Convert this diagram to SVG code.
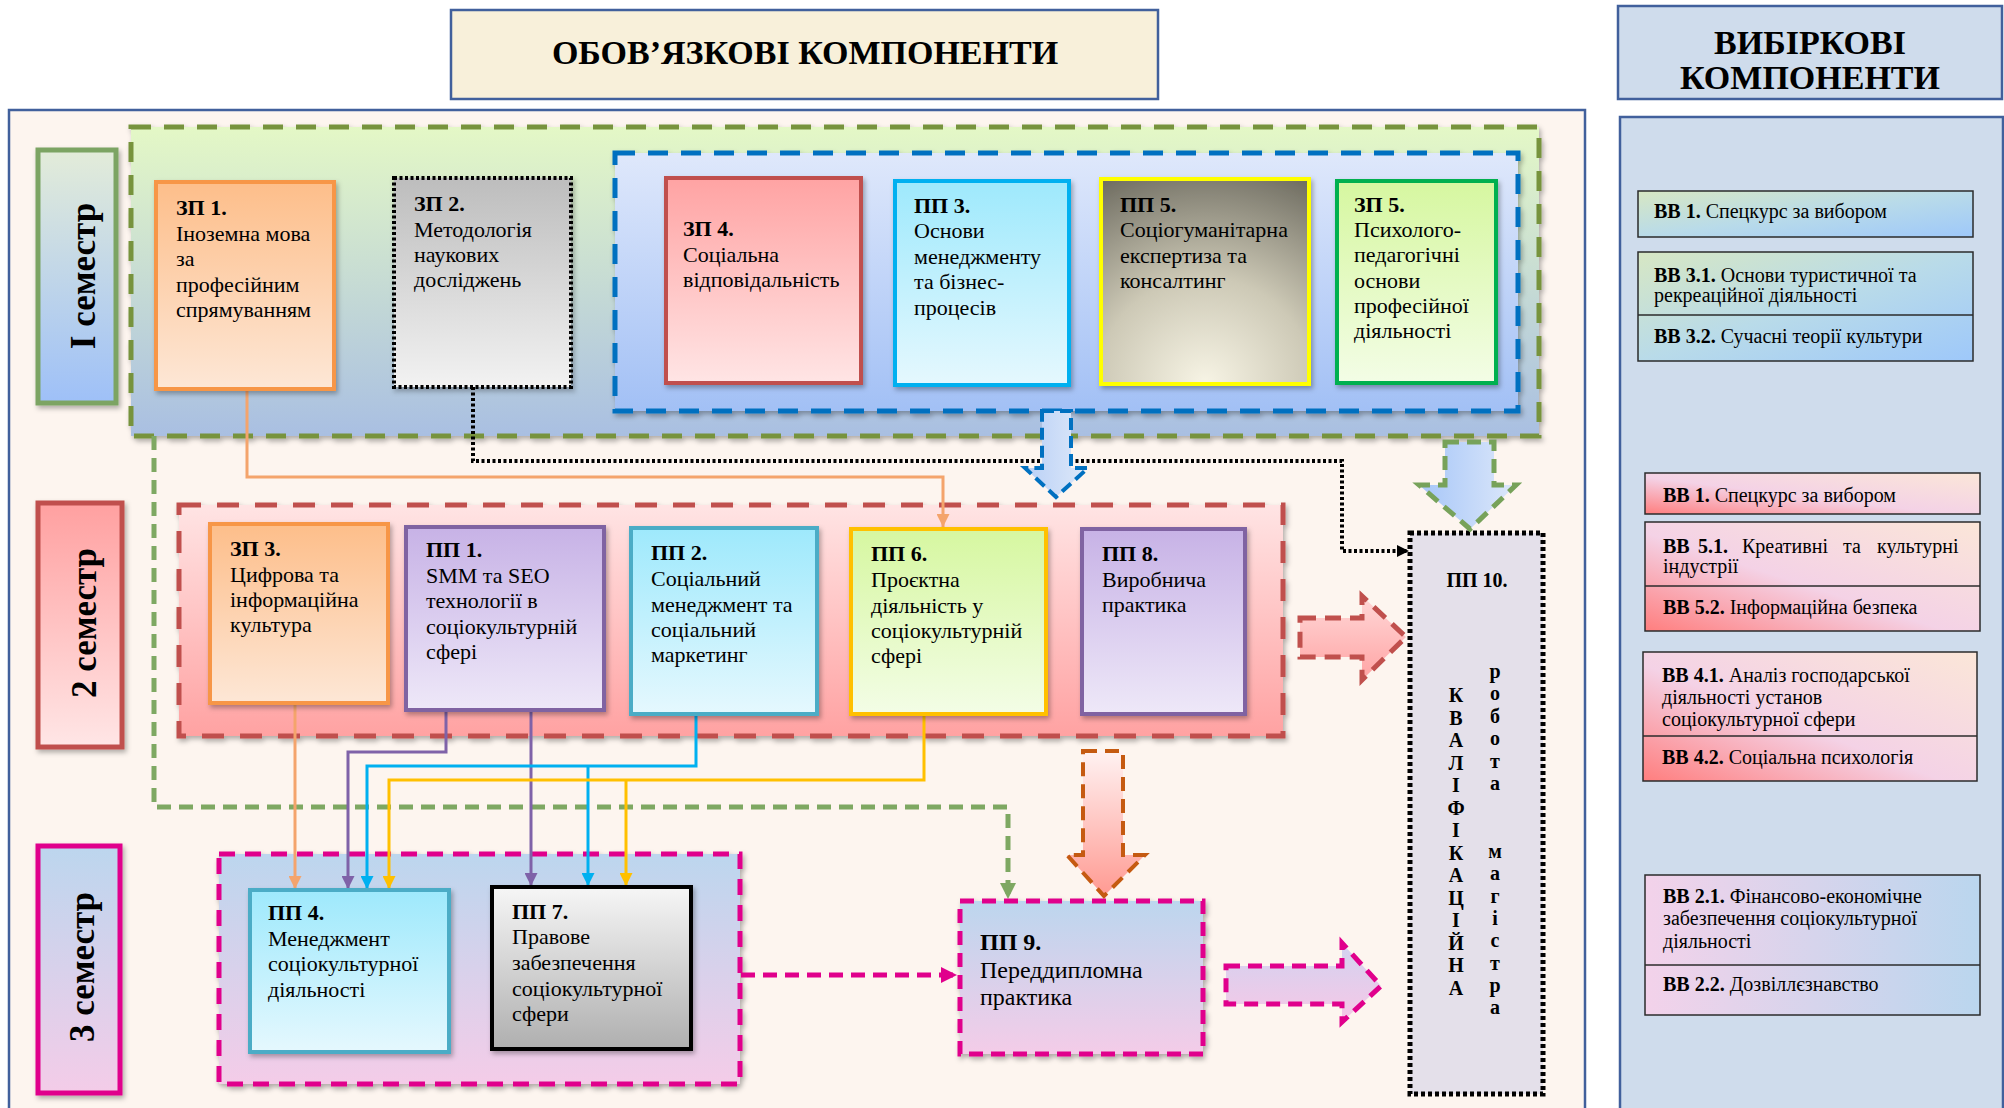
<svg xmlns="http://www.w3.org/2000/svg" width="2004" height="1108" viewBox="0 0 2004 1108">
<defs>
<style>
.t{font-family:"Liberation Serif","Times New Roman",serif;font-size:22px;fill:#000}
.b{font-weight:bold}
.v{font-size:20px}
.p9{font-size:24px}
.hd{font-family:"Liberation Serif","Times New Roman",serif;font-weight:bold;font-size:34px;fill:#000;text-anchor:middle}
.sem{font-family:"Liberation Serif","Times New Roman",serif;font-weight:bold;font-size:35px;fill:#000;text-anchor:middle}
.box{stroke-width:4}
.ln{fill:none;stroke-width:3}
.vbox{stroke:#2b2b2b;stroke-width:1.5}
.grp{stroke-width:5;stroke-dasharray:20 13}
</style>
<filter id="sh" x="-10%" y="-10%" width="125%" height="125%"><feDropShadow dx="2" dy="3" stdDeviation="2.5" flood-color="#000" flood-opacity="0.3"/></filter>
<linearGradient id="gGrn" x1="0" y1="0" x2="0" y2="1"><stop offset="0" stop-color="#e4f8c6"/><stop offset="1" stop-color="#a9bfe2"/></linearGradient>
<linearGradient id="gBlu" x1="0" y1="0" x2="0" y2="1"><stop offset="0" stop-color="#dfe8fb"/><stop offset="1" stop-color="#a2c0f5"/></linearGradient>
<linearGradient id="gRed" x1="0" y1="0" x2="0" y2="1"><stop offset="0" stop-color="#ffe4e4"/><stop offset="1" stop-color="#ffa2a2"/></linearGradient>
<linearGradient id="gMag" x1="0" y1="0" x2="0" y2="1"><stop offset="0" stop-color="#bcd6ee"/><stop offset="1" stop-color="#f4cce8"/></linearGradient>
<linearGradient id="gS1" x1="0" y1="0" x2="0" y2="1"><stop offset="0" stop-color="#e3ecd9"/><stop offset="1" stop-color="#9ec0f8"/></linearGradient>
<linearGradient id="gS2" x1="0" y1="0" x2="0" y2="1"><stop offset="0" stop-color="#ffa0a0"/><stop offset="1" stop-color="#ffe6e6"/></linearGradient>
<linearGradient id="gOr" x1="0" y1="0" x2="0" y2="1"><stop offset="0" stop-color="#fdbe8a"/><stop offset="1" stop-color="#fde7d6"/></linearGradient>
<linearGradient id="gGy" x1="0" y1="0" x2="0" y2="1"><stop offset="0" stop-color="#bdbdbd"/><stop offset="1" stop-color="#f2f2f2"/></linearGradient>
<linearGradient id="gGy2" x1="0" y1="0" x2="0" y2="1"><stop offset="0" stop-color="#f6f6f6"/><stop offset="1" stop-color="#afafaf"/></linearGradient>
<linearGradient id="gPk" x1="0" y1="0" x2="0" y2="1"><stop offset="0" stop-color="#ffa3a3"/><stop offset="1" stop-color="#ffe5e5"/></linearGradient>
<linearGradient id="gCy" x1="0" y1="0" x2="0" y2="1"><stop offset="0" stop-color="#9ee9fc"/><stop offset="1" stop-color="#e5f8fe"/></linearGradient>
<linearGradient id="gLg" x1="0" y1="0" x2="0" y2="1"><stop offset="0" stop-color="#d6f7a0"/><stop offset="1" stop-color="#f3fde6"/></linearGradient>
<linearGradient id="gPu" x1="0" y1="0" x2="0" y2="1"><stop offset="0" stop-color="#c7b2e6"/><stop offset="1" stop-color="#eee8f8"/></linearGradient>
<radialGradient id="gPP5" cx="0.5" cy="1" r="1.15"><stop offset="0" stop-color="#f7f4e5"/><stop offset="0.45" stop-color="#cdc9b6"/><stop offset="1" stop-color="#67655a"/></radialGradient>
<linearGradient id="gVg" x1="0" y1="0" x2="1" y2="1"><stop offset="0" stop-color="#d7e7c3"/><stop offset="0.5" stop-color="#b9dbe9"/><stop offset="1" stop-color="#9ec8fa"/></linearGradient>
<linearGradient id="gVp" x1="0" y1="1" x2="1" y2="0"><stop offset="0" stop-color="#ff7e7e"/><stop offset="0.45" stop-color="#f4d2e6"/><stop offset="1" stop-color="#fbe6d8"/></linearGradient>
<linearGradient id="gVb" x1="0" y1="0" x2="1" y2="0"><stop offset="0" stop-color="#f3d2ea"/><stop offset="1" stop-color="#bad6ee"/></linearGradient>
<linearGradient id="gAb" x1="0" y1="0" x2="1" y2="0"><stop offset="0" stop-color="#b9d0f6"/><stop offset="1" stop-color="#dfe9f9"/></linearGradient>
<linearGradient id="gAg" x1="0" y1="0" x2="1" y2="0"><stop offset="0" stop-color="#a6c6f8"/><stop offset="1" stop-color="#dde8fa"/></linearGradient>
<linearGradient id="gAr" x1="0" y1="0" x2="0" y2="1"><stop offset="0" stop-color="#ffd8d8"/><stop offset="1" stop-color="#ffa4a4"/></linearGradient>
<linearGradient id="gAo" x1="0" y1="0" x2="0" y2="1"><stop offset="0" stop-color="#fff2f2"/><stop offset="1" stop-color="#ff9a92"/></linearGradient>
<linearGradient id="gAm" x1="0" y1="0" x2="0" y2="1"><stop offset="0" stop-color="#d2d2f0"/><stop offset="1" stop-color="#f7c8e6"/></linearGradient>
<marker id="aO" viewBox="0 0 10 10" refX="10" refY="5" markerWidth="13" markerHeight="13" markerUnits="userSpaceOnUse" orient="auto"><path d="M0,0L10,5L0,10z" fill="#f4a46c"/></marker>
<marker id="aP" viewBox="0 0 10 10" refX="10" refY="5" markerWidth="13" markerHeight="13" markerUnits="userSpaceOnUse" orient="auto"><path d="M0,0L10,5L0,10z" fill="#7f62a8"/></marker>
<marker id="aB" viewBox="0 0 10 10" refX="10" refY="5" markerWidth="13" markerHeight="13" markerUnits="userSpaceOnUse" orient="auto"><path d="M0,0L10,5L0,10z" fill="#00b0f0"/></marker>
<marker id="aY" viewBox="0 0 10 10" refX="10" refY="5" markerWidth="13" markerHeight="13" markerUnits="userSpaceOnUse" orient="auto"><path d="M0,0L10,5L0,10z" fill="#ffc000"/></marker>
<marker id="aK" viewBox="0 0 10 10" refX="10" refY="5" markerWidth="14" markerHeight="12" markerUnits="userSpaceOnUse" orient="auto"><path d="M0,0L10,5L0,10z" fill="#000"/></marker>
<marker id="aG" viewBox="0 0 10 10" refX="10" refY="5" markerWidth="16" markerHeight="16" markerUnits="userSpaceOnUse" orient="auto"><path d="M0,0L10,5L0,10z" fill="#7ea862"/></marker>
<marker id="aM" viewBox="0 0 10 10" refX="10" refY="5" markerWidth="16" markerHeight="16" markerUnits="userSpaceOnUse" orient="auto"><path d="M0,0L10,5L0,10z" fill="#e0008c"/></marker>
</defs>

<rect width="2004" height="1108" fill="#ffffff"/>

<!-- headers -->
<g id="header-mandatory">
<rect x="451" y="10" width="707" height="89" fill="#f8f0da" stroke="#41609c" stroke-width="2.5"/>
<text class="hd" x="805" y="64">ОБОВ’ЯЗКОВІ КОМПОНЕНТИ</text>
</g>
<g id="header-elective">
<rect x="1618" y="6" width="384" height="93" fill="#cfdcec" stroke="#41609c" stroke-width="2.5"/>
<text class="hd" x="1810" y="54">ВИБІРКОВІ</text>
<text class="hd" x="1810" y="89">КОМПОНЕНТИ</text>
</g>

<!-- containers -->
<g id="mandatory-panel"><rect x="9" y="110" width="1576" height="1010" fill="#fdf5ef" stroke="#41609c" stroke-width="2.5"/></g>
<g id="elective-panel"><rect x="1620" y="117" width="383" height="1003" fill="#cfdcec" stroke="#41609c" stroke-width="2.5"/></g>

<!-- semester labels -->
<g id="sem1-label">
<rect x="38" y="150" width="78" height="253" fill="url(#gS1)" stroke="#7ba464" stroke-width="5" filter="url(#sh)"/>
<text class="sem" transform="translate(95,276) rotate(-90)">I семестр</text>
</g>
<g id="sem2-label">
<rect x="38" y="503" width="84" height="244" fill="url(#gS2)" stroke="#c0504d" stroke-width="5" filter="url(#sh)"/>
<text class="sem" transform="translate(96,623) rotate(-90)">2 семестр</text>
</g>
<g id="sem3-label">
<rect x="38" y="846" width="82" height="247" fill="url(#gMag)" stroke="#e0008c" stroke-width="5" filter="url(#sh)"/>
<text class="sem" transform="translate(94,967) rotate(-90)">3 семестр</text>
</g>

<!-- semester groups -->
<g id="sem1-group"><rect x="131" y="127" width="1408" height="309" fill="url(#gGrn)" stroke="#77933c" class="grp" filter="url(#sh)"/></g>
<g id="sem1-inner-group"><rect x="615" y="153" width="903" height="258" fill="url(#gBlu)" stroke="#0070c0" class="grp" filter="url(#sh)"/></g>
<g id="sem2-group"><rect x="179" y="505" width="1104" height="231" fill="url(#gRed)" stroke="#c0504d" class="grp" style="stroke-dasharray:22 16" filter="url(#sh)"/></g>
<g id="sem3-group"><rect x="219" y="854" width="521" height="230" fill="url(#gMag)" stroke="#e0008c" class="grp" style="stroke-dasharray:16 10" filter="url(#sh)"/></g>

<!-- connectors -->
<g id="connectors">
<path class="ln" d="M247,389V477H943V527" stroke="#f4a46c" marker-end="url(#aO)"/>
<path d="M473,387V461H1342V551H1409" fill="none" stroke="#000" stroke-width="4" stroke-dasharray="3 2.5" marker-end="url(#aK)"/>
<path d="M154,436V807H1008V899" fill="none" stroke="#7ea862" stroke-width="5" stroke-dasharray="14 8" marker-end="url(#aG)"/>
<path class="ln" d="M295,703V889" stroke="#f4a46c" marker-end="url(#aO)"/>
<path class="ln" d="M446,710V752H348V889" stroke="#7f62a8" marker-end="url(#aP)"/>
<path class="ln" d="M531,710V886" stroke="#7f62a8" marker-end="url(#aP)"/>
<path class="ln" d="M696,714V766H367V889" stroke="#00b0f0" marker-end="url(#aB)"/>
<path class="ln" d="M588,766V886" stroke="#00b0f0" marker-end="url(#aB)"/>
<path class="ln" d="M924,714V780H389V889" stroke="#ffc000" marker-end="url(#aY)"/>
<path class="ln" d="M626,780V886" stroke="#ffc000" marker-end="url(#aY)"/>
<path d="M741,975H957" fill="none" stroke="#e0008c" stroke-width="5" stroke-dasharray="14 8" marker-end="url(#aM)"/>
</g>

<!-- semester 1 nodes -->
<g id="zp1">
<rect class="box" x="156" y="182" width="178" height="207" fill="url(#gOr)" stroke="#f79646" filter="url(#sh)"/>
<text class="t b" x="176" y="215">ЗП 1.</text>
<text class="t" x="176" y="241">Іноземна мова</text>
<text class="t" x="176" y="266">за</text>
<text class="t" x="176" y="292">професійним</text>
<text class="t" x="176" y="317">спрямуванням</text>
</g>
<g id="zp2">
<rect x="394" y="178" width="177" height="209" fill="url(#gGy)" stroke="#000" stroke-width="4" stroke-dasharray="3 2.5" filter="url(#sh)"/>
<text class="t b" x="414" y="211">ЗП 2.</text>
<text class="t" x="414" y="237">Методологія</text>
<text class="t" x="414" y="262">наукових</text>
<text class="t" x="414" y="287">досліджень</text>
</g>
<g id="zp4">
<rect class="box" x="666" y="178" width="195" height="205" fill="url(#gPk)" stroke="#c0504d" filter="url(#sh)"/>
<text class="t b" x="683" y="236">ЗП 4.</text>
<text class="t" x="683" y="262">Соціальна</text>
<text class="t" x="683" y="287">відповідальність</text>
</g>
<g id="pp3">
<rect class="box" x="895" y="181" width="174" height="204" fill="url(#gCy)" stroke="#00b0f0" filter="url(#sh)"/>
<text class="t b" x="914" y="213">ПП 3.</text>
<text class="t" x="914" y="238">Основи</text>
<text class="t" x="914" y="264">менеджменту</text>
<text class="t" x="914" y="289">та бізнес-</text>
<text class="t" x="914" y="315">процесів</text>
</g>
<g id="pp5">
<rect class="box" x="1101" y="179" width="208" height="205" fill="url(#gPP5)" stroke="#ffff00" filter="url(#sh)"/>
<text class="t b" x="1120" y="212">ПП 5.</text>
<text class="t" x="1120" y="237">Соціогуманітарна</text>
<text class="t" x="1120" y="263">експертиза та</text>
<text class="t" x="1120" y="288">консалтинг</text>
</g>
<g id="zp5">
<rect class="box" x="1337" y="181" width="159" height="202" fill="url(#gLg)" stroke="#00b050" filter="url(#sh)"/>
<text class="t b" x="1354" y="212">ЗП 5.</text>
<text class="t" x="1354" y="237">Психолого-</text>
<text class="t" x="1354" y="262">педагогічні</text>
<text class="t" x="1354" y="288">основи</text>
<text class="t" x="1354" y="313">професійної</text>
<text class="t" x="1354" y="338">діяльності</text>
</g>

<!-- semester 2 nodes -->
<g id="zp3">
<rect class="box" x="210" y="524" width="178" height="179" fill="url(#gOr)" stroke="#f79646" filter="url(#sh)"/>
<text class="t b" x="230" y="556">ЗП 3.</text>
<text class="t" x="230" y="582">Цифрова та</text>
<text class="t" x="230" y="607">інформаційна</text>
<text class="t" x="230" y="632">культура</text>
</g>
<g id="pp1">
<rect class="box" x="406" y="527" width="198" height="183" fill="url(#gPu)" stroke="#8064a2" filter="url(#sh)"/>
<text class="t b" x="426" y="557">ПП 1.</text>
<text class="t" x="426" y="583">SMM та SEO</text>
<text class="t" x="426" y="608">технології в</text>
<text class="t" x="426" y="634">соціокультурній</text>
<text class="t" x="426" y="659">сфері</text>
</g>
<g id="pp2">
<rect class="box" x="631" y="528" width="186" height="186" fill="url(#gCy)" stroke="#4bacc6" filter="url(#sh)"/>
<text class="t b" x="651" y="560">ПП 2.</text>
<text class="t" x="651" y="586">Соціальний</text>
<text class="t" x="651" y="612">менеджмент та</text>
<text class="t" x="651" y="637">соціальний</text>
<text class="t" x="651" y="662">маркетинг</text>
</g>
<g id="pp6">
<rect class="box" x="851" y="529" width="195" height="185" fill="url(#gLg)" stroke="#ffc000" filter="url(#sh)"/>
<text class="t b" x="871" y="561">ПП 6.</text>
<text class="t" x="871" y="587">Проєктна</text>
<text class="t" x="871" y="613">діяльність у</text>
<text class="t" x="871" y="638">соціокультурній</text>
<text class="t" x="871" y="663">сфері</text>
</g>
<g id="pp8">
<rect class="box" x="1082" y="529" width="163" height="185" fill="url(#gPu)" stroke="#8064a2" filter="url(#sh)"/>
<text class="t b" x="1102" y="561">ПП 8.</text>
<text class="t" x="1102" y="587">Виробнича</text>
<text class="t" x="1102" y="612">практика</text>
</g>

<!-- semester 3 nodes -->
<g id="pp4">
<rect class="box" x="250" y="890" width="199" height="162" fill="url(#gCy)" stroke="#4bacc6" filter="url(#sh)"/>
<text class="t b" x="268" y="920">ПП 4.</text>
<text class="t" x="268" y="946">Менеджмент</text>
<text class="t" x="268" y="971">соціокультурної</text>
<text class="t" x="268" y="997">діяльності</text>
</g>
<g id="pp7">
<rect class="box" x="492" y="887" width="199" height="162" fill="url(#gGy2)" stroke="#000" filter="url(#sh)"/>
<text class="t b" x="512" y="919">ПП 7.</text>
<text class="t" x="512" y="944">Правове</text>
<text class="t" x="512" y="970">забезпечення</text>
<text class="t" x="512" y="996">соціокультурної</text>
<text class="t" x="512" y="1021">сфери</text>
</g>
<g id="pp9">
<rect x="960" y="901" width="243" height="153" fill="url(#gMag)" stroke="#e0008c" stroke-width="5" stroke-dasharray="14 8" filter="url(#sh)"/>
<text class="t p9 b" x="980" y="950">ПП 9.</text>
<text class="t p9" x="980" y="978">Переддипломна</text>
<text class="t p9" x="980" y="1005">практика</text>
</g>
<g id="pp10">
<rect x="1410" y="533" width="133" height="561" fill="#e4e0ea" stroke="#000" stroke-width="5" stroke-dasharray="4 3"/>
<text class="t b v" x="1477" y="587" text-anchor="middle">ПП 10.</text>
<text class="t b v" text-anchor="middle"><tspan x="1456" y="702">К</tspan><tspan x="1456" dy="22.5">В</tspan><tspan x="1456" dy="22.5">А</tspan><tspan x="1456" dy="22.5">Л</tspan><tspan x="1456" dy="22.5">І</tspan><tspan x="1456" dy="22.5">Ф</tspan><tspan x="1456" dy="22.5">І</tspan><tspan x="1456" dy="22.5">К</tspan><tspan x="1456" dy="22.5">А</tspan><tspan x="1456" dy="22.5">Ц</tspan><tspan x="1456" dy="22.5">І</tspan><tspan x="1456" dy="22.5">Й</tspan><tspan x="1456" dy="22.5">Н</tspan><tspan x="1456" dy="22.5">А</tspan></text>
<text class="t b v" text-anchor="middle"><tspan x="1495" y="678">р</tspan><tspan x="1495" dy="22.4">о</tspan><tspan x="1495" dy="22.4">б</tspan><tspan x="1495" dy="22.4">о</tspan><tspan x="1495" dy="22.4">т</tspan><tspan x="1495" dy="22.4">а</tspan></text>
<text class="t b v" text-anchor="middle"><tspan x="1495" y="858">м</tspan><tspan x="1495" dy="22.3">а</tspan><tspan x="1495" dy="22.3">г</tspan><tspan x="1495" dy="22.3">і</tspan><tspan x="1495" dy="22.3">с</tspan><tspan x="1495" dy="22.3">т</tspan><tspan x="1495" dy="22.3">р</tspan><tspan x="1495" dy="22.3">а</tspan></text>
</g>

<!-- block arrows -->
<g id="block-arrows">
<polygon points="1042,411 1071,411 1071,468 1088,468 1056,497 1025,468 1042,468" fill="url(#gAb)" stroke="#0070c0" stroke-width="4" stroke-dasharray="12 6"/>
<polygon points="1445,442 1494,442 1494,485 1516,485 1470,529 1419,485 1445,485" fill="url(#gAg)" stroke="#77a25a" stroke-width="5" stroke-dasharray="14 8"/>
<polygon points="1300,618 1362,618 1362,596 1406,637 1362,680 1362,657 1300,657" fill="url(#gAr)" stroke="#c0504d" stroke-width="5" stroke-dasharray="16 9"/>
<polygon points="1083,751 1123,751 1123,855 1145,855 1104,896 1067,855 1083,855" fill="url(#gAo)" stroke="#c55a11" stroke-width="4" stroke-dasharray="14 8"/>
<polygon points="1226,966 1342,966 1342,943 1381,986 1342,1022 1342,1004 1226,1004" fill="url(#gAm)" stroke="#e0008c" stroke-width="5" stroke-dasharray="14 8"/>
</g>

<!-- elective nodes -->
<g id="vb1-a">
<rect class="vbox" x="1638" y="191" width="335" height="46" fill="url(#gVg)"/>
<text class="t v" x="1654" y="218"><tspan class="b">ВВ 1.</tspan> Спецкурс за вибором</text>
</g>
<g id="vb3">
<rect class="vbox" x="1638" y="252" width="335" height="109" fill="url(#gVg)"/>
<line x1="1638" y1="315" x2="1973" y2="315" stroke="#2b2b2b" stroke-width="1.5"/>
<text class="t v" x="1654" y="282"><tspan class="b">ВВ 3.1.</tspan> Основи туристичної та</text>
<text class="t v" x="1654" y="302">рекреаційної діяльності</text>
<text class="t v" x="1654" y="343"><tspan class="b">ВВ 3.2.</tspan> Сучасні теорії культури</text>
</g>
<g id="vb1-b">
<rect class="vbox" x="1645" y="473" width="335" height="41" fill="url(#gVp)"/>
<text class="t v" x="1663" y="502"><tspan class="b">ВВ 1.</tspan> Спецкурс за вибором</text>
</g>
<g id="vb5">
<rect class="vbox" x="1645" y="522" width="335" height="109" fill="url(#gVp)"/>
<line x1="1645" y1="586" x2="1980" y2="586" stroke="#2b2b2b" stroke-width="1.5"/>
<text class="t v" y="553"><tspan class="b" x="1663">ВВ</tspan><tspan class="b" x="1698">5.1.</tspan><tspan x="1742">Креативні</tspan><tspan x="1843">та</tspan><tspan x="1877">культурні</tspan></text>
<text class="t v" x="1663" y="573">індустрії</text>
<text class="t v" x="1663" y="614"><tspan class="b">ВВ 5.2.</tspan> Інформаційна безпека</text>
</g>
<g id="vb4">
<rect class="vbox" x="1643" y="652" width="334" height="129" fill="url(#gVp)"/>
<line x1="1643" y1="736" x2="1977" y2="736" stroke="#2b2b2b" stroke-width="1.5"/>
<text class="t v" x="1662" y="682"><tspan class="b">ВВ 4.1.</tspan> Аналіз господарської</text>
<text class="t v" x="1662" y="704">діяльності установ</text>
<text class="t v" x="1662" y="726">соціокультурної сфери</text>
<text class="t v" x="1662" y="764"><tspan class="b">ВВ 4.2.</tspan> Соціальна психологія</text>
</g>
<g id="vb2">
<rect class="vbox" x="1645" y="875" width="335" height="140" fill="url(#gVb)"/>
<line x1="1645" y1="965" x2="1980" y2="965" stroke="#2b2b2b" stroke-width="1.5"/>
<text class="t v" x="1663" y="903"><tspan class="b">ВВ 2.1.</tspan> Фінансово-економічне</text>
<text class="t v" x="1663" y="925">забезпечення соціокультурної</text>
<text class="t v" x="1663" y="948">діяльності</text>
<text class="t v" x="1663" y="991"><tspan class="b">ВВ 2.2.</tspan> Дозвіллєзнавство</text>
</g>
</svg>
